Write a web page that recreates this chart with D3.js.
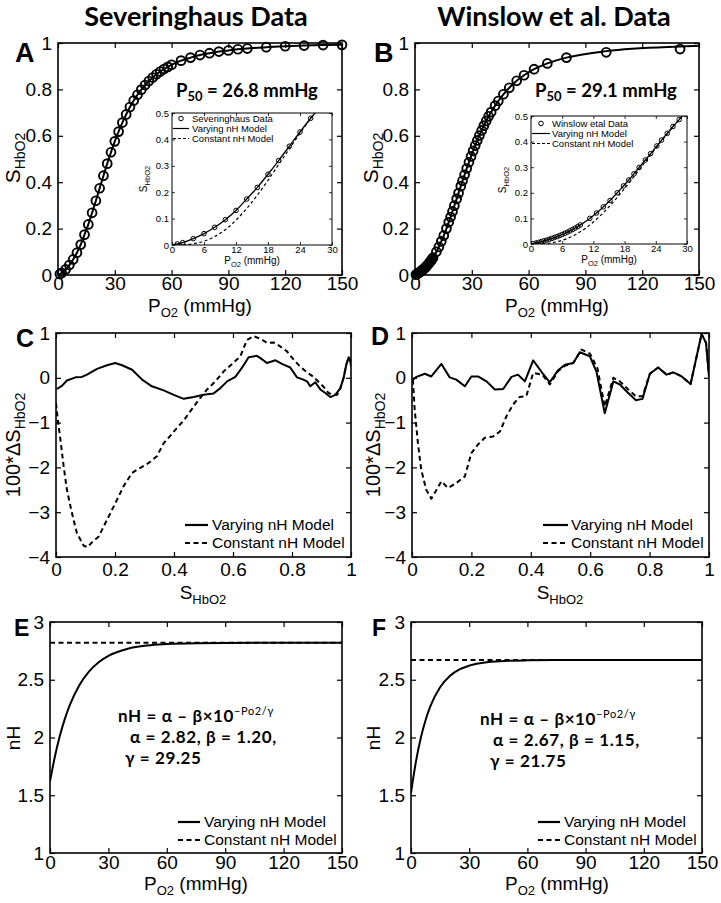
<!DOCTYPE html>
<html><head><meta charset="utf-8">
<script src="https://cdn.jsdelivr.net/npm/d3@7"></script>
<style>body{margin:0;background:#fff}</style>
</head><body>
<svg id="fig" width="721" height="903"></svg>
<script>
// ---------------- DATA ----------------
// Panel A: Severinghaus data (PO2 mmHg, SHbO2)
const sevP = [1,2,4,6,8,10,12,14,16,18,20,22,24,26,28,30,32,34,36,38,40,42,44,46,48,50,52,54,56,58,60,65,70,75,80,85,90,95,100,110,120,130,140,150];
const sevS = [0.004,0.009,0.024,0.043,0.067,0.096,0.131,0.174,0.218,0.268,0.320,0.374,0.428,0.480,0.529,0.576,0.618,0.657,0.692,0.724,0.752,0.777,0.799,0.819,0.836,0.851,0.865,0.877,0.888,0.897,0.906,0.924,0.937,0.948,0.956,0.963,0.968,0.973,0.976,0.982,0.986,0.989,0.991,0.992];
// Constant nH model (inset A)
const sevConP = [0,2,4,6,8,10,12,14,16,18,20,22,24,26,28,30];
const sevConS = [0,0.0007,0.0047,0.0145,0.032,0.058,0.094,0.138,0.189,0.245,0.305,0.364,0.423,0.479,0.531,0.579];
// Panel B: Winslow et al. data
const winP = [0.5,1,1.5,2,2.5,3,3.5,4,4.5,5,5.5,6,6.5,7,7.5,8,8.5,9,9.5,11.3,12.6,13.9,15.2,16.6,17.8,18.8,19.8,20.8,22,23,24.2,25.1,26.2,27.3,28.5,29.6,30.7,31.8,32.9,34,35.2,36.4,37.6,38.9,40.2,42.3,44,46.7,49.8,53.7,57.6,62.9,69.9,80,101,140];
const winS = [0.0016,0.004,0.0067,0.0094,0.0123,0.0153,0.0185,0.0218,0.0253,0.029,0.033,0.0372,0.0417,0.0464,0.0514,0.0567,0.0624,0.0683,0.0746,0.100,0.121,0.145,0.170,0.200,0.227,0.250,0.274,0.299,0.328,0.353,0.383,0.406,0.432,0.459,0.486,0.511,0.535,0.558,0.580,0.601,0.623,0.644,0.664,0.684,0.702,0.730,0.750,0.779,0.807,0.837,0.861,0.887,0.912,0.937,0.960,0.974];
const winTailP = [101,140,150];
const winTailS = [0.965,0.985,0.988];
const winConP = [0,3,6,9,12,15,18,21,24,27,29.1,30];
const winConS = [0,0.0023,0.0145,0.0417,0.0859,0.1456,0.2172,0.2951,0.3742,0.4502,0.5,0.5203];
// Panel C residuals (100*dS vs S)
const cVarS = [0.003,0.02,0.037,0.066,0.088,0.105,0.139,0.173,0.201,0.224,0.258,0.292,0.325,0.365,0.399,0.433,0.467,0.5,0.534,0.557,0.58,0.608,0.63,0.653,0.681,0.693,0.715,0.744,0.766,0.794,0.817,0.834,0.851,0.862,0.879,0.896,0.913,0.93,0.947,0.964,0.975,0.984,0.992,0.998,1.0];
const cVarD = [-0.25,-0.18,-0.06,0.01,0.02,0.07,0.2,0.28,0.33,0.28,0.18,-0.04,-0.19,-0.28,-0.38,-0.47,-0.43,-0.38,-0.35,-0.23,-0.08,0.02,0.22,0.46,0.49,0.44,0.33,0.39,0.31,0.23,0.01,-0.03,-0.08,-0.19,-0.10,-0.26,-0.34,-0.43,-0.38,-0.23,0.0,0.29,0.46,0.37,0.26];
const cConS = [0.0,0.006,0.015,0.026,0.037,0.054,0.071,0.094,0.107,0.122,0.145,0.173,0.201,0.229,0.258,0.286,0.314,0.342,0.365,0.388,0.41,0.433,0.455,0.484,0.512,0.54,0.568,0.602,0.625,0.647,0.67,0.693,0.715,0.738,0.76,0.783,0.806,0.828,0.851,0.873,0.885,0.907,0.924,0.941,0.953,0.964,0.975,0.984,0.992,0.998,1.0];
const cConD = [-0.56,-0.93,-1.38,-1.98,-2.5,-3.02,-3.47,-3.75,-3.78,-3.67,-3.54,-3.17,-2.80,-2.42,-2.12,-2.01,-1.90,-1.75,-1.46,-1.29,-1.12,-0.95,-0.75,-0.49,-0.26,-0.08,0.14,0.34,0.48,0.84,0.93,0.87,0.78,0.79,0.70,0.59,0.40,0.25,0.12,0.02,-0.06,-0.2,-0.34,-0.38,-0.38,-0.23,0.0,0.29,0.46,0.37,0.26];
// Panel D residuals
const dVarS = [0.003,0.015,0.043,0.065,0.099,0.127,0.149,0.178,0.2,0.222,0.251,0.279,0.307,0.335,0.357,0.38,0.408,0.442,0.464,0.492,0.515,0.543,0.565,0.599,0.621,0.649,0.678,0.7,0.722,0.754,0.776,0.801,0.829,0.857,0.88,0.908,0.938,0.975,0.99,1.0];
const dVarD = [-0.04,0.02,0.09,0.03,0.31,0.01,-0.04,-0.19,0.03,0.03,-0.08,-0.26,-0.25,0.02,0.07,-0.08,0.39,0.08,-0.1,0.17,0.29,0.33,0.57,0.48,0.14,-0.79,-0.08,-0.15,-0.3,-0.5,-0.47,0.09,0.23,0.07,0.12,0.03,-0.14,0.98,0.78,0.03];
const dConS = [0.003,0.009,0.02,0.031,0.048,0.065,0.08,0.099,0.121,0.149,0.178,0.2,0.222,0.245,0.273,0.296,0.318,0.34,0.362,0.385,0.408,0.439,0.464,0.492,0.515,0.543,0.571,0.599,0.624,0.649,0.678,0.7,0.728,0.754,0.776,0.801,0.829,0.857,0.88,0.908,0.938,0.975,0.99,1.0];
const dConD = [-0.04,-0.71,-1.46,-2.05,-2.5,-2.7,-2.53,-2.31,-2.46,-2.35,-2.2,-1.68,-1.49,-1.34,-1.31,-1.2,-0.86,-0.6,-0.43,-0.41,0.11,0.07,-0.15,0.15,0.27,0.33,0.63,0.54,0.22,-0.64,0.0,-0.08,-0.26,-0.41,-0.41,0.09,0.23,0.07,0.12,0.03,-0.14,0.98,0.78,0.03];
// Panels E, F: nH vs PO2
const nhP = [0,2.5,5,7.5,10,15,20,25,30,40,50,60,75,90,120,150];
const eVarN = [1.62,1.834,2.010,2.155,2.274,2.451,2.571,2.652,2.707,2.769,2.797,2.809,2.817,2.819,2.82,2.82];
const fVarN = [1.52,1.787,1.993,2.150,2.271,2.435,2.532,2.589,2.622,2.653,2.664,2.668,2.670,2.670,2.670,2.670];
const conP = [0,150];
const eConN = [2.82,2.82];
const fConN = [2.67,2.67];
// Tick values
const ticksP = [0,30,60,90,120,150];
const ticksS = [0,0.2,0.4,0.6,0.8,1];
const ticksResX = [0,0.2,0.4,0.6,0.8,1];
const ticksResY = [-4,-3,-2,-1,0,1];
const ticksNH = [1,1.5,2,2.5,3];
const ticksInsetX = [0,6,12,18,24,30];
const ticksInsetY = [0,0.1,0.2,0.3,0.4,0.5];

// ---------------- DRAW ----------------
const svg = d3.select('#fig');
svg.append('rect').attr('width',721).attr('height',903).attr('fill','#fff');
const TICKF = "'Liberation Sans', Arial, sans-serif";
const BOLDF = "Lato, 'Open Sans', 'DejaVu Sans', sans-serif";
let clipN = 0;
const fmtS = v => String(+v.toFixed(1));

function axes(c){
  const x = d3.scaleLinear().domain(c.xd).range([c.x0,c.x1]);
  const y = d3.scaleLinear().domain(c.yd).range([c.y1,c.y0]);
  const g = svg.append('g');
  if (c.bg) g.append('rect').attr('x',c.x0).attr('y',c.y0).attr('width',c.x1-c.x0).attr('height',c.y1-c.y0).attr('fill','#fff');
  const content = g.append('g');
  const style = sel => {
    sel.select('.domain').remove();
    sel.attr('font-family',null).attr('font-size',null);
    sel.selectAll('text').attr('font-family',TICKF).attr('font-size',c.fs).attr('fill','#000');
    sel.selectAll('line').attr('stroke','#000').attr('stroke-width',c.tw);
  };
  g.append('g').attr('transform',`translate(0,${c.y1})`)
    .call(d3.axisBottom(x).tickValues(c.xt).tickSize(-c.tl).tickPadding(c.xpad).tickFormat(c.xf)).call(style);
  g.append('g').attr('transform',`translate(${c.x0},0)`)
    .call(d3.axisLeft(y).tickValues(c.yt).tickSize(-c.tl).tickPadding(c.ypad).tickFormat(c.yf)).call(style);
  g.append('g').attr('transform',`translate(0,${c.y0})`)
    .call(d3.axisTop(x).tickValues(c.xt).tickSize(-c.tl).tickFormat(()=>'')).call(style);
  g.append('g').attr('transform',`translate(${c.x1},0)`)
    .call(d3.axisRight(y).tickValues(c.yt).tickSize(-c.tl).tickFormat(()=>'')).call(style);
  g.append('rect').attr('x',c.x0).attr('y',c.y0).attr('width',c.x1-c.x0).attr('height',c.y1-c.y0)
    .attr('fill','none').attr('stroke','#000').attr('stroke-width',c.fw);
  const id = 'clip'+(clipN++);
  svg.append('clipPath').attr('id',id).append('rect')
    .attr('x',c.x0).attr('y',c.y0).attr('width',c.x1-c.x0).attr('height',c.y1-c.y0);
  return {x,y,g,content,clip:`url(#${id})`,c};
}

function drawLine(ax, xs, ys, o){
  const data = xs.map((v,i)=>[v, ys[i]]);
  ax.content.append('path').datum(data)
    .attr('d', d3.line().x(d=>ax.x(d[0])).y(d=>ax.y(d[1])).curve(o.curve||d3.curveLinear))
    .attr('fill','none').attr('stroke','#000').attr('stroke-width',o.w)
    .attr('stroke-dasharray',o.dash||null).attr('stroke-linejoin','round')
    .attr('clip-path', o.clip===false?null:ax.clip);
}
function drawPts(ax, xs, ys, r, w, clip){
  const data = xs.map((v,i)=>[v, ys[i]]);
  ax.content.append('g').attr('clip-path', clip?ax.clip:null)
    .selectAll('circle').data(data).join('circle')
    .attr('cx',d=>ax.x(d[0])).attr('cy',d=>ax.y(d[1])).attr('r',r)
    .attr('fill','none').attr('stroke','#000').attr('stroke-width',w);
}
function rich(parts, attrs){
  const t = svg.append('text');
  for (const k in attrs) t.attr(k, attrs[k]);
  let shift = 0;
  parts.forEach(p=>{
    const s = t.append('tspan').text(p.t);
    const target = p.sub ? p.sub : (p.sup ? -p.sup : 0);
    if (target-shift !== 0) s.attr('dy', target-shift);
    shift = target;
    if (p.fs) s.attr('font-size', p.fs);
    if (p.fw) s.attr('font-weight', p.fw);
  });
  return t;
}
function ylabel(parts, bx, cy, fs){
  return rich(parts, {'transform':`translate(${bx},${cy}) rotate(-90)`,'text-anchor':'middle','font-family':TICKF,'font-size':fs});
}
function xlabel(parts, cx, by, fs){
  return rich(parts, {'x':cx,'y':by,'text-anchor':'middle','font-family':TICKF,'font-size':fs});
}
function legendMain(l0, l1, tx, ly1, ly2, b1, b2){
  svg.append('line').attr('x1',l0).attr('x2',l1).attr('y1',ly1).attr('y2',ly1).attr('stroke','#000').attr('stroke-width',2.2);
  svg.append('line').attr('x1',l0).attr('x2',l1).attr('y1',ly2).attr('y2',ly2).attr('stroke','#000').attr('stroke-width',2.2).attr('stroke-dasharray','5,3.5');
  svg.append('text').attr('x',tx).attr('y',b1).attr('font-family',TICKF).attr('font-size',15.5).text('Varying nH Model');
  svg.append('text').attr('x',tx).attr('y',b2).attr('font-family',TICKF).attr('font-size',15.5).text('Constant nH Model');
}
function panelLetter(t, x, y, fs){
  svg.append('text').attr('x',x).attr('y',y).attr('font-family',TICKF).attr('font-weight',700).attr('font-size',fs).text(t);
}

const mainCfg = {xd:[0,150], yd:[0,1], xt:ticksP, yt:ticksS, xf:d3.format('d'), yf:fmtS, fs:19, tl:5, tw:1.2, fw:1.6, xpad:1, ypad:6};

// ---- Titles ----
svg.append('text').attr('x',196).attr('y',26).attr('text-anchor','middle').attr('font-family',BOLDF).attr('font-weight',700).attr('font-size',27).text('Severinghaus Data');
svg.append('text').attr('x',554).attr('y',26).attr('text-anchor','middle').attr('font-family',BOLDF).attr('font-weight',700).attr('font-size',27).text('Winslow et al. Data');

// ---- Panel A ----
const axA = axes(Object.assign({}, mainCfg, {x0:58,x1:342,y0:43,y1:275}));
drawLine(axA, [0].concat(sevP), [0].concat(sevS), {w:2, curve:d3.curveMonotoneX, clip:false});
drawPts(axA, sevP, sevS, 4.4, 1.9, false);
ylabel([{t:'S'},{t:'HbO2',sub:5,fs:14}], 20, 158, 21);
xlabel([{t:'P'},{t:'O2',sub:5,fs:13},{t:' (mmHg)',sub:0.0001}], 200, 312, 19);
panelLetter('A', 15, 62, 27);
rich([{t:'P'},{t:'50',sub:4,fs:13},{t:' = 26.8 mmHg',sub:0.0001}], {x:176,y:97,'font-family':BOLDF,'font-weight':700,'font-size':18.5});

// Inset A
const insCfg = {xd:[0,30], yd:[0,0.5], xt:ticksInsetX, yt:ticksInsetY, xf:d3.format('d'), yf:fmtS, fs:9.5, tl:3, tw:0.8, fw:1, xpad:1, ypad:3, bg:true};
const iA = axes(Object.assign({}, insCfg, {x0:172,x1:332,y0:113,y1:245}));
drawLine(iA, sevConP, sevConS, {w:1.2, dash:'3,2.5', curve:d3.curveMonotoneX});
drawLine(iA, [0].concat(sevP), [0].concat(sevS), {w:1.3, curve:d3.curveMonotoneX});
drawPts(iA, sevP, sevS, 2.3, 1, true);
ylabel([{t:'S'},{t:'HbO2',sub:3,fs:7.5}], 147, 179, 10);
xlabel([{t:'P'},{t:'O2',sub:3,fs:7.5},{t:' (mmHg)',sub:0.0001}], 252, 264, 10);
// inset A legend
svg.append('circle').attr('cx',181).attr('cy',118.5).attr('r',2.3).attr('fill','none').attr('stroke','#000').attr('stroke-width',1);
svg.append('line').attr('x1',173).attr('x2',189).attr('y1',128.5).attr('y2',128.5).attr('stroke','#000').attr('stroke-width',1.2);
svg.append('line').attr('x1',173).attr('x2',189).attr('y1',138.5).attr('y2',138.5).attr('stroke','#000').attr('stroke-width',1.2).attr('stroke-dasharray','3,2');
[['Severinghaus Data',122],['Varying nH Model',132],['Constant nH Model',142]].forEach(d=>{
  svg.append('text').attr('x',192).attr('y',d[1]).attr('font-family',TICKF).attr('font-size',9.5).text(d[0]);
});

// ---- Panel B ----
const axB = axes(Object.assign({}, mainCfg, {x0:415,x1:699,y0:43,y1:275}));
drawLine(axB, [0].concat(winP.slice(0,54), winTailP), [0].concat(winS.slice(0,54), winTailS), {w:2, curve:d3.curveMonotoneX, clip:false});
drawPts(axB, winP, winS, 4.4, 1.9, false);
ylabel([{t:'S'},{t:'HbO2',sub:5,fs:14}], 378, 158, 21);
xlabel([{t:'P'},{t:'O2',sub:5,fs:13},{t:' (mmHg)',sub:0.0001}], 557, 312, 19);
panelLetter('B', 374, 62, 27);
rich([{t:'P'},{t:'50',sub:4,fs:13},{t:' = 29.1 mmHg',sub:0.0001}], {x:535,y:97,'font-family':BOLDF,'font-weight':700,'font-size':18.5});

const iB = axes(Object.assign({}, insCfg, {x0:531,x1:687,y0:116,y1:244}));
drawLine(iB, winConP, winConS, {w:1.2, dash:'3,2.5', curve:d3.curveMonotoneX});
drawLine(iB, [0].concat(winP.slice(0,40)), [0].concat(winS.slice(0,40)), {w:1.3, curve:d3.curveMonotoneX});
drawPts(iB, winP, winS, 2.3, 1, true);
ylabel([{t:'S'},{t:'HbO2',sub:3,fs:7.5}], 506, 180, 10);
xlabel([{t:'P'},{t:'O2',sub:3,fs:7.5},{t:' (mmHg)',sub:0.0001}], 609, 263, 10);
svg.append('circle').attr('cx',541).attr('cy',123.5).attr('r',2.3).attr('fill','none').attr('stroke','#000').attr('stroke-width',1);
svg.append('line').attr('x1',532).attr('x2',550).attr('y1',133.5).attr('y2',133.5).attr('stroke','#000').attr('stroke-width',1.2);
svg.append('line').attr('x1',532).attr('x2',550).attr('y1',143.5).attr('y2',143.5).attr('stroke','#000').attr('stroke-width',1.2).attr('stroke-dasharray','3,2');
[['Winslow etal Data',127],['Varying nH Model',137],['Constant nH Model',147]].forEach(d=>{
  svg.append('text').attr('x',552).attr('y',d[1]).attr('font-family',TICKF).attr('font-size',9.5).text(d[0]);
});

// ---- Panel C ----
const resCfg = {xd:[0,1], yd:[-4,1], xt:ticksResX, yt:ticksResY, xf:fmtS, yf:d3.format('d'), fs:19, tl:5, tw:1.2, fw:1.6, xpad:6, ypad:6};
const axC = axes(Object.assign({}, resCfg, {x0:56,x1:351,y0:333,y1:557}));
drawLine(axC, cConS, cConD, {w:2, dash:'5,3.5'});
drawLine(axC, cVarS, cVarD, {w:2});
ylabel([{t:'100*ΔS'},{t:'HbO2',sub:5,fs:14}], 20, 445, 20);
xlabel([{t:'S'},{t:'HbO2',sub:5,fs:13}], 203, 599, 19);
panelLetter('C', 16, 347, 25);
legendMain(185, 208, 212, 525, 543, 530, 548);

// ---- Panel D ----
const axD = axes(Object.assign({}, resCfg, {x0:412,x1:709,y0:333,y1:557}));
drawLine(axD, dConS, dConD, {w:2, dash:'5,3.5'});
drawLine(axD, dVarS, dVarD, {w:2});
ylabel([{t:'100*ΔS'},{t:'HbO2',sub:5,fs:14}], 380, 445, 20);
xlabel([{t:'S'},{t:'HbO2',sub:5,fs:13}], 560, 599, 19);
panelLetter('D', 371, 345, 25);
legendMain(543, 568, 571, 525, 543, 530, 548);

// ---- Panel E ----
const nhCfg = {xd:[0,150], yd:[1,3], xt:ticksP, yt:ticksNH, xf:d3.format('d'), yf:d => String(d), fs:19, tl:5, tw:1.2, fw:1.6, xpad:2, ypad:6};
const axE = axes(Object.assign({}, nhCfg, {x0:50,x1:342,y0:622,y1:853}));
drawLine(axE, conP, eConN, {w:2, dash:'5,3.5'});
drawLine(axE, nhP, eVarN, {w:2, curve:d3.curveMonotoneX});
ylabel([{t:'nH'}], 20, 738, 19);
xlabel([{t:'P'},{t:'O2',sub:5,fs:13},{t:' (mmHg)',sub:0.0001}], 196, 890, 19);
panelLetter('E', 14, 636, 23);
legendMain(178, 200, 204, 822, 840, 827, 845);
function formula(x1, x2, x3, b1, b2, b3, a, b, g){
  const st = t => t.attr('font-family',BOLDF).attr('font-weight',700).attr('font-size',17).attr('letter-spacing',0.6);
  st(rich([{t:'nH = α – β×10'},{t:'−Po2/γ',sup:7,fs:11,fw:400}], {x:x1,y:b1}));
  st(svg.append('text').attr('x',x2).attr('y',b2)).text(`α = ${a}, β = ${b},`);
  st(svg.append('text').attr('x',x3).attr('y',b3)).text(`γ = ${g}`);
}
formula(118, 130, 125, 722, 743, 764, '2.82', '1.20', '29.25');

// ---- Panel F ----
const axF = axes(Object.assign({}, nhCfg, {x0:411,x1:702,y0:622,y1:853}));
drawLine(axF, conP, fConN, {w:2, dash:'5,3.5'});
drawLine(axF, nhP, fVarN, {w:2, curve:d3.curveMonotoneX});
ylabel([{t:'nH'}], 380, 738, 19);
xlabel([{t:'P'},{t:'O2',sub:5,fs:13},{t:' (mmHg)',sub:0.0001}], 557, 890, 19);
panelLetter('F', 372, 636, 23);
legendMain(538, 560, 564, 822, 840, 827, 845);
formula(480, 493, 490, 725, 746, 767, '2.67', '1.15', '21.75');
</script>
</body></html>
